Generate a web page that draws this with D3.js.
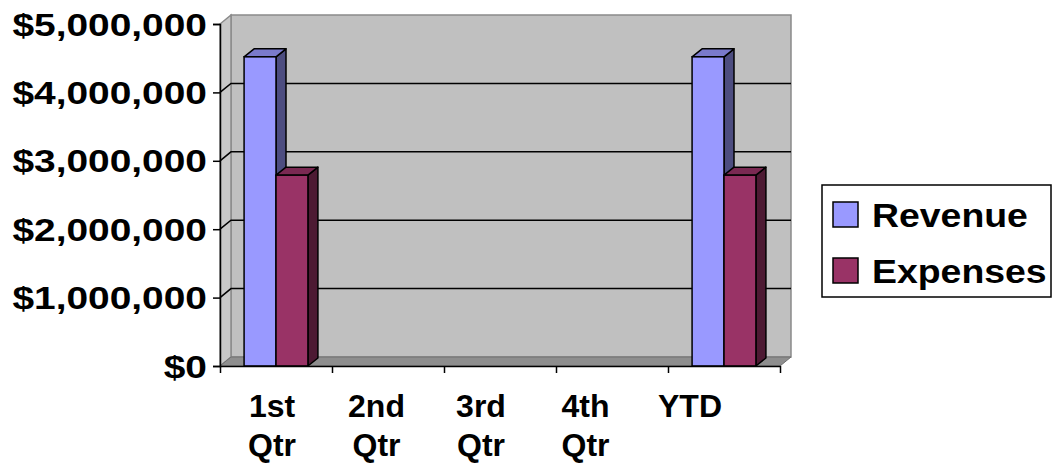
<!DOCTYPE html>
<html>
<head>
<meta charset="utf-8">
<script src="https://cdn.jsdelivr.net/npm/d3@7"></script>
<style>
  html, body { margin: 0; padding: 0; background: #ffffff; }
  svg { display: block; }
  text { font-family: "Liberation Sans", Arial, sans-serif; font-weight: bold; fill: #000; }
</style>
</head>
<body>
<svg id="chart" width="1053" height="473"></svg>
<script>
// ---- data ----
const categories = ["1st Qtr", "2nd Qtr", "3rd Qtr", "4th Qtr", "YTD"];
const seriesNames = ["Revenue", "Expenses"];
const revenue  = [4520000, 0, 0, 0, 4520000];
const expenses = [2790000, 0, 0, 0, 2790000];
const yTicks = [0, 1000000, 2000000, 3000000, 4000000, 5000000];
const seriesColors = {
  Revenue:  { front: "#9999ff", top: "#7a7acc", side: "#4d4d80" },
  Expenses: { front: "#993366", top: "#7a2952", side: "#4d1a33" }
};

// ---- layout ----
const svg = d3.select("#chart");
const plot = { left: 220, right: 780, top: 24, bottom: 366 };
const depth = { dx: 11, dy: 9 };      // wall depth
const barDepth = { dx: 10, dy: 8 };   // bar depth

const y = d3.scaleLinear().domain([0, 5000000]).range([plot.bottom, plot.top]);
const x0 = d3.scaleBand().domain(categories).range([plot.left, plot.right])
  .paddingInner(0.43).paddingOuter(0.215);
const x1 = d3.scaleBand().domain(seriesNames).range([0, x0.bandwidth()]);
const xEdge = d3.scaleLinear().domain([0, categories.length]).range([plot.left, plot.right]);

const g = svg.append("g");

// back wall
g.append("rect")
  .attr("x", plot.left + depth.dx).attr("y", plot.top - depth.dy)
  .attr("width", plot.right - plot.left).attr("height", plot.bottom - plot.top)
  .attr("fill", "#c0c0c0").attr("stroke", "#8a8a8a").attr("stroke-width", 1.5);

// left side wall
g.append("path")
  .attr("d", `M${plot.left},${plot.top} L${plot.left + depth.dx},${plot.top - depth.dy} L${plot.left + depth.dx},${plot.bottom - depth.dy} L${plot.left},${plot.bottom} Z`)
  .attr("fill", "#c8c8c8").attr("stroke", "#8a8a8a").attr("stroke-width", 1.5);

// floor
g.append("path")
  .attr("d", `M${plot.left},${plot.bottom} L${plot.left + depth.dx},${plot.bottom - depth.dy} L${plot.right + depth.dx},${plot.bottom - depth.dy} L${plot.right},${plot.bottom} Z`)
  .attr("fill", "#8e8e8e").attr("stroke", "#707070").attr("stroke-width", 1);

// gridlines
const gridVals = yTicks.filter(v => v > 0 && v < 5000000);
g.selectAll(".grid").data(gridVals).join("path")
  .attr("d", v => `M${plot.left},${y(v)} L${plot.left + depth.dx},${y(v) - depth.dy} L${plot.right + depth.dx},${y(v) - depth.dy}`)
  .attr("fill", "none").attr("stroke", "#000").attr("stroke-width", 1.5);

// bars
const barData = [];
categories.forEach((c, i) => {
  [["Revenue", revenue[i]], ["Expenses", expenses[i]]].forEach(([s, v]) => {
    if (v > 0) barData.push({ cat: c, series: s, value: v });
  });
});
const bars = g.selectAll(".bar").data(barData).join("g").attr("class", "bar");
bars.each(function(d) {
  const sel = d3.select(this);
  const bx = x0(d.cat) + x1(d.series);
  const w = x1.bandwidth();
  const yt = y(d.value), yb = y(0);
  const col = seriesColors[d.series];
  sel.append("path")
    .attr("d", `M${bx + w},${yt} L${bx + w + barDepth.dx},${yt - barDepth.dy} L${bx + w + barDepth.dx},${yb - barDepth.dy} L${bx + w},${yb} Z`)
    .attr("fill", col.side).attr("stroke", "#000").attr("stroke-width", 1.5).attr("stroke-linejoin", "round");
  sel.append("path")
    .attr("d", `M${bx},${yt} L${bx + barDepth.dx},${yt - barDepth.dy} L${bx + w + barDepth.dx},${yt - barDepth.dy} L${bx + w},${yt} Z`)
    .attr("fill", col.top).attr("stroke", "#000").attr("stroke-width", 1.5).attr("stroke-linejoin", "round");
  sel.append("rect")
    .attr("x", bx).attr("y", yt).attr("width", w).attr("height", yb - yt)
    .attr("fill", col.front).attr("stroke", "#000").attr("stroke-width", 1.5);
});

// y axis
const yAxis = d3.axisLeft(y).tickValues(yTicks).tickSize(7).tickPadding(6)
  .tickFormat(d3.format("$,"));
const yg = svg.append("g").attr("transform", `translate(${plot.left},0)`).call(yAxis);
yg.select(".domain").attr("stroke", "#000").attr("stroke-width", 1.5);
yg.selectAll(".tick line").attr("stroke", "#000").attr("stroke-width", 1.5);
yg.selectAll(".tick text")
  .attr("font-size", 31).attr("font-family", null)
  .attr("x", 0).attr("dy", "0.36em")
  .attr("transform", "translate(-13,0) scale(1.255,1)");

// x axis (ticks at category edges)
const xAxis = d3.axisBottom(xEdge).tickValues(d3.range(categories.length + 1))
  .tickSize(7).tickSizeOuter(0).tickFormat("");
const xg = svg.append("g").attr("transform", `translate(0,${plot.bottom})`).call(xAxis);
xg.select(".domain").attr("stroke", "#000").attr("stroke-width", 1.5);
xg.selectAll(".tick line").attr("stroke", "#000").attr("stroke-width", 1.5);

// category labels
const xLabel = d3.scalePoint().domain(categories).range([272, 690]);
const lbl = svg.append("g").selectAll("text").data(categories).join("text")
  .attr("text-anchor", "middle").attr("font-size", 32)
  .attr("transform", d => `translate(${xLabel(d)},417)`);
lbl.selectAll("tspan").data(d => d.split(" ")).join("tspan")
  .attr("x", 0).attr("dy", (d, i) => i === 0 ? 0 : 39).text(d => d);

// legend
const lg = svg.append("g");
lg.append("rect").attr("x", 822).attr("y", 185).attr("width", 229).attr("height", 112)
  .attr("fill", "#fff").attr("stroke", "#000").attr("stroke-width", 1.5);
const items = lg.selectAll(".item").data(seriesNames).join("g")
  .attr("transform", (d, i) => `translate(833,${202 + i * 56})`);
items.append("rect").attr("width", 25).attr("height", 25)
  .attr("fill", d => seriesColors[d].front).attr("stroke", "#000").attr("stroke-width", 1.5);
items.append("text").attr("font-size", 34)
  .attr("transform", "translate(39,25) scale(1.1,1)")
  .text(d => d);
</script>
</body>
</html>
